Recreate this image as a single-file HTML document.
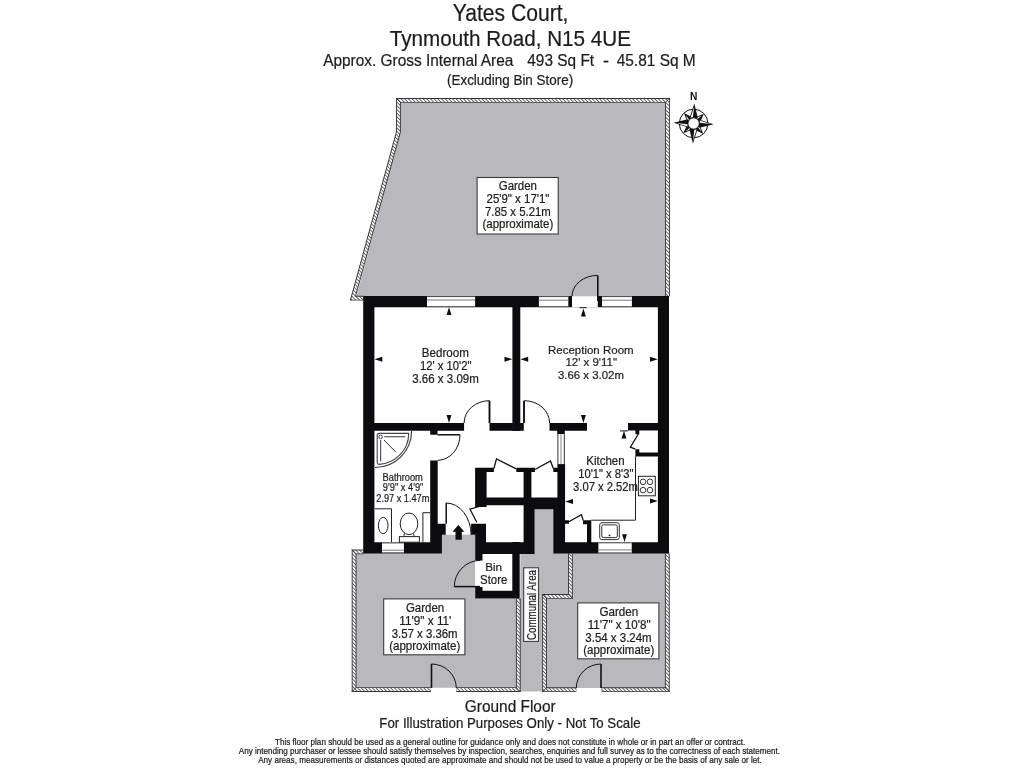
<!DOCTYPE html>
<html><head><meta charset="utf-8"><title>Yates Court Floor Plan</title>
<style>
html,body{margin:0;padding:0;background:#fff;width:1024px;height:768px;overflow:hidden}
svg{display:block;will-change:transform}
text{font-family:"Liberation Sans",sans-serif;stroke:#1c1c1c;stroke-width:0.22px;paint-order:stroke}
</style></head><body>
<svg width="1024" height="768" viewBox="0 0 1024 768">
<defs>
<pattern id="hatch" width="2.6" height="2.6" patternUnits="userSpaceOnUse" patternTransform="rotate(-45)">
<rect width="2.6" height="2.6" fill="#fff"/><rect width="0.9" height="2.6" fill="#555"/>
</pattern>
</defs>
<rect width="1024" height="768" fill="#fff"/>
<polygon points="400.50,102.60 665.20,102.60 665.20,296.60 356.40,296.60 400.50,133.00" fill="#b9b8bd" />
<polygon points="355.30,553.00 441.90,553.00 441.90,534.80 475.30,534.80 475.30,598.40 516.20,598.40 516.20,687.70 355.30,687.70" fill="#b9b8bd" />
<polygon points="534.60,509.30 553.30,509.30 553.30,553.00 568.30,553.00 568.30,594.60 542.20,594.60 542.20,691.50 520.30,691.50 520.30,553.00 534.60,553.00" fill="#b9b8bd" />
<polygon points="572.50,553.00 665.20,553.00 665.20,688.00 546.90,688.00 546.90,598.30 572.50,598.30" fill="#b9b8bd" />
<path d="M 363.5 298.2 L 353.0 298.2 L 398.45 131.9 L 398.45 100.45 L 667.45 100.45 L 667.45 296.3" stroke="#333336" stroke-width="4.8" fill="none" stroke-linejoin="miter" stroke-linecap="butt"/>
<path d="M 363.5 298.2 L 353.0 298.2 L 398.45 131.9 L 398.45 100.45 L 667.45 100.45 L 667.45 296.3" stroke="url(#hatch)" stroke-width="3.0" fill="none" stroke-linejoin="miter" stroke-linecap="butt"/>
<path d="M 363.5 551.9 L 354.1 551.9 L 354.1 689.6 L 430.8 689.6" stroke="#333336" stroke-width="4.8" fill="none" stroke-linejoin="miter" stroke-linecap="butt"/>
<path d="M 363.5 551.9 L 354.1 551.9 L 354.1 689.6 L 430.8 689.6" stroke="url(#hatch)" stroke-width="3.0" fill="none" stroke-linejoin="miter" stroke-linecap="butt"/>
<path d="M 456.3 689.6 L 518.3 689.6 L 518.3 598.3" stroke="#333336" stroke-width="4.8" fill="none" stroke-linejoin="miter" stroke-linecap="butt"/>
<path d="M 456.3 689.6 L 518.3 689.6 L 518.3 598.3" stroke="url(#hatch)" stroke-width="3.0" fill="none" stroke-linejoin="miter" stroke-linecap="butt"/>
<path d="M 570.4 553.4 L 570.4 596.45 L 544.55 596.45 L 544.55 689.7 L 576.3 689.7" stroke="#333336" stroke-width="4.8" fill="none" stroke-linejoin="miter" stroke-linecap="butt"/>
<path d="M 570.4 553.4 L 570.4 596.45 L 544.55 596.45 L 544.55 689.7 L 576.3 689.7" stroke="url(#hatch)" stroke-width="3.0" fill="none" stroke-linejoin="miter" stroke-linecap="butt"/>
<path d="M 601.6 689.7 L 667.3 689.7 L 667.3 553.4" stroke="#333336" stroke-width="4.8" fill="none" stroke-linejoin="miter" stroke-linecap="butt"/>
<path d="M 601.6 689.7 L 667.3 689.7 L 667.3 553.4" stroke="url(#hatch)" stroke-width="3.0" fill="none" stroke-linejoin="miter" stroke-linecap="butt"/>
<line x1="396.05" y1="98.05" x2="400.85" y2="102.85" stroke="#333" stroke-width="0.9"/>
<line x1="669.85" y1="98.05" x2="665.05" y2="102.85" stroke="#333" stroke-width="0.9"/>
<line x1="351.7" y1="549.5" x2="356.5" y2="554.3" stroke="#333" stroke-width="0.9"/>
<line x1="351.7" y1="692.0" x2="356.5" y2="687.2" stroke="#333" stroke-width="0.9"/>
<line x1="520.7" y1="692.0" x2="515.9" y2="687.2" stroke="#333" stroke-width="0.9"/>
<line x1="572.8" y1="598.85" x2="568.0" y2="594.05" stroke="#333" stroke-width="0.9"/>
<line x1="546.95" y1="598.85" x2="542.15" y2="594.05" stroke="#333" stroke-width="0.9"/>
<line x1="546.95" y1="687.3" x2="542.15" y2="692.1" stroke="#333" stroke-width="0.9"/>
<line x1="664.9" y1="687.3" x2="669.7" y2="692.1" stroke="#333" stroke-width="0.9"/>
<path d="M363.20 296.10H669.00V307.20H363.20Z M363.20 296.10H374.40V553.50H363.20Z M657.90 296.10H669.00V553.50H657.90Z M512.40 307.00H520.30V431.00H512.40Z M374.00 423.00H464.10V430.80H374.00Z M489.50 423.00H523.80V430.80H489.50Z M549.50 423.00H587.00V430.70H549.50Z M628.00 423.00H657.90V430.60H628.00Z M430.20 430.80H437.50V434.70H430.20Z M430.20 460.50H437.70V553.50H430.20Z M363.20 542.20H441.90V553.50H363.20Z M437.70 523.80H445.70V534.80H437.70Z M437.70 534.00H441.90V553.50H437.70Z M471.10 523.80H486.00V534.80H471.10Z M475.20 534.80H486.00V554.00H475.20Z M475.20 534.80H482.50V560.70H475.20Z M475.20 586.80H482.50V598.40H475.20Z M475.20 590.80H519.70V598.40H475.20Z M512.30 542.00H519.70V598.40H512.30Z M475.20 542.20H534.60V554.00H475.20Z M523.60 497.40H534.60V554.00H523.60Z M475.10 467.70H486.60V506.90H475.10Z M475.10 467.70H493.90V471.90H475.10Z M516.30 467.70H535.00V471.90H516.30Z M523.60 467.70H531.40V497.40H523.60Z M475.10 497.40H565.10V505.20H475.10Z M534.60 497.40H553.30V509.30H534.60Z M553.30 467.80H557.40V471.90H553.30Z M557.40 464.10H565.10V553.50H557.40Z M553.30 497.40H565.10V553.50H553.30Z M557.20 430.70H564.80V434.20H557.20Z M553.30 542.30H669.00V553.50H553.30Z M587.00 520.30H591.30V542.50H587.00Z M564.50 520.30H569.00V523.80H564.50Z M583.00 520.30H591.30V524.30H583.00Z M635.40 452.60H657.90V456.50H635.40Z M635.40 430.40H639.30V434.30H635.40Z M635.40 449.20H639.30V456.50H635.40Z" fill="#0c0b10" fill-rule="nonzero"/>
<rect x="427.00" y="296.10" width="48.10" height="11.10" fill="#fff" />
<line x1="427.0" y1="296.6" x2="475.1" y2="296.6" stroke="#444" stroke-width="1"/>
<line x1="427.0" y1="306.7" x2="475.1" y2="306.7" stroke="#444" stroke-width="1"/>
<line x1="427.0" y1="300.0" x2="475.1" y2="300.0" stroke="#777" stroke-width="1"/>
<rect x="538.90" y="296.10" width="29.40" height="11.10" fill="#fff" />
<line x1="538.9" y1="296.6" x2="568.3" y2="296.6" stroke="#444" stroke-width="1"/>
<line x1="538.9" y1="306.7" x2="568.3" y2="306.7" stroke="#444" stroke-width="1"/>
<line x1="538.9" y1="300.2" x2="568.3" y2="300.2" stroke="#777" stroke-width="1"/>
<rect x="602.00" y="296.10" width="29.90" height="11.10" fill="#fff" />
<line x1="602.0" y1="296.6" x2="631.9" y2="296.6" stroke="#444" stroke-width="1"/>
<line x1="602.0" y1="306.7" x2="631.9" y2="306.7" stroke="#444" stroke-width="1"/>
<line x1="602.0" y1="300.2" x2="631.9" y2="300.2" stroke="#777" stroke-width="1"/>
<rect x="382.00" y="542.40" width="21.90" height="10.90" fill="#fff" />
<line x1="382.0" y1="542.9" x2="403.9" y2="542.9" stroke="#444" stroke-width="1"/>
<line x1="382.0" y1="552.8" x2="403.9" y2="552.8" stroke="#444" stroke-width="1"/>
<line x1="382.0" y1="550.2" x2="403.9" y2="550.2" stroke="#777" stroke-width="1"/>
<rect x="598.40" y="542.30" width="33.30" height="11.10" fill="#fff" />
<line x1="598.4" y1="542.8" x2="631.7" y2="542.8" stroke="#444" stroke-width="1"/>
<line x1="598.4" y1="552.9" x2="631.7" y2="552.9" stroke="#444" stroke-width="1"/>
<line x1="598.4" y1="549.9" x2="631.7" y2="549.9" stroke="#777" stroke-width="1"/>
<rect x="572.00" y="296.10" width="25.80" height="11.30" fill="#fff" />
<rect x="557.40" y="434.20" width="7.40" height="29.90" fill="#fff" />
<line x1="557.9" y1="434.2" x2="557.9" y2="464.1" stroke="#333" stroke-width="1"/>
<line x1="564.3" y1="434.2" x2="564.3" y2="464.1" stroke="#333" stroke-width="1"/>
<line x1="561.0" y1="434.2" x2="561.0" y2="464.1" stroke="#888" stroke-width="1"/>
<rect x="475.20" y="560.70" width="7.40" height="26.10" fill="#fff" />
<path d="M 572 296.2 A 25.6 20.8 0 0 1 597.6 275.4" stroke="#111" stroke-width="1.0" fill="none" />
<path d="M 597.8 275.4 L 597.8 301" stroke="#111" stroke-width="1.6" fill="none" />
<path d="M 464.1 423 A 25.4 22.3 0 0 1 489.5 400.7" stroke="#111" stroke-width="1.0" fill="none" />
<path d="M 489.5 400.7 L 489.5 423" stroke="#111" stroke-width="1.9" fill="none" />
<path d="M 549.6 423 A 25.4 22.3 0 0 0 524.2 400.7" stroke="#111" stroke-width="1.0" fill="none" />
<path d="M 524.0 400.7 L 524.0 423" stroke="#111" stroke-width="1.9" fill="none" />
<path d="M 460 434.8 A 22.5 25.5 0 0 1 437.6 460.3" stroke="#111" stroke-width="1.0" fill="none" />
<path d="M 437.5 434.8 L 460 434.8" stroke="#111" stroke-width="1.5" fill="none" />
<path d="M 446 503 A 25.1 32 0 0 1 471.1 535" stroke="#111" stroke-width="1.0" fill="none" />
<path d="M 446.2 503 L 446.2 523.8" stroke="#111" stroke-width="1.5" fill="none" />
<path d="M 454.3 586.7 A 26 26.3 0 0 1 480.3 560.4" stroke="#111" stroke-width="1.0" fill="none" />
<path d="M 454.3 586.6 L 480 586.6" stroke="#111" stroke-width="1.5" fill="none" />
<path d="M 431.5 664 L 431.5 688" stroke="#111" stroke-width="1.6" fill="none" />
<path d="M 431.5 664 A 24.8 24 0 0 1 456.3 688" stroke="#111" stroke-width="1.0" fill="none" />
<path d="M 601.0 664 L 601.0 688" stroke="#111" stroke-width="1.6" fill="none" />
<path d="M 601.0 664 A 24.8 24 0 0 0 576.3 688" stroke="#111" stroke-width="1.0" fill="none" />
<path d="M 493.9 468.5 L 496.5 458.9 L 516.3 468.8" stroke="#111" stroke-width="1.3" fill="none" />
<path d="M 535 469.5 L 550.5 461 L 553.3 468.5" stroke="#111" stroke-width="1.3" fill="none" />
<path d="M 479.2 506.5 L 470 509.2 L 476.8 522.2" stroke="#111" stroke-width="1.3" fill="none" />
<path d="M 568.3 522 L 581.4 514.8 L 583.2 520.4" stroke="#111" stroke-width="1.3" fill="none" />
<path d="M 638.3 434.0 L 630.4 447.2 L 635.4 449.2" stroke="#111" stroke-width="1.3" fill="none" />
<polygon points="449.00,307.30 446.55,315.10 451.45,315.10" fill="#0c0b10" />
<polygon points="449.00,422.90 446.55,415.10 451.45,415.10" fill="#0c0b10" />
<polygon points="374.50,359.20 382.30,356.75 382.30,361.65" fill="#0c0b10" />
<polygon points="512.30,359.20 504.50,356.75 504.50,361.65" fill="#0c0b10" />
<polygon points="520.40,359.20 528.20,356.75 528.20,361.65" fill="#0c0b10" />
<polygon points="657.80,359.20 650.00,356.75 650.00,361.65" fill="#0c0b10" />
<polygon points="583.40,308.60 580.95,316.40 585.85,316.40" fill="#0c0b10" />
<path d="M 579.5 307.7 L 586.7 307.7" stroke="#111" stroke-width="1" fill="none" />
<polygon points="583.40,422.90 580.95,415.10 585.85,415.10" fill="#0c0b10" />
<polygon points="565.20,501.50 573.00,499.05 573.00,503.95" fill="#0c0b10" />
<polygon points="657.80,501.00 650.00,498.55 650.00,503.45" fill="#0c0b10" />
<polygon points="624.00,430.70 621.55,438.50 626.45,438.50" fill="#0c0b10" />
<path d="M 620 430.9 L 628 430.9" stroke="#111" stroke-width="1" fill="none" />
<polygon points="624.50,542.00 622.05,534.20 626.95,534.20" fill="#0c0b10" />
<polygon points="458.40,525.00 452.40,531.80 455.50,531.80 455.50,539.70 461.80,539.70 461.80,531.80 464.40,531.80" fill="#0c0b10" />
<path d="M 411.6 431 A 36.7 36.5 0 0 1 374.9 467.5" stroke="#333" stroke-width="1.1" fill="none" />
<path d="M 377.2 435.5 Q 377.2 433.4 379.3 433.4 L 408.7 433.4 A 31.5 31 0 0 1 379 464.4 Q 377.2 464.4 377.2 462.6 Z" stroke="#444" stroke-width="1.1" fill="none" />
<circle cx="380.6" cy="436.9" r="1.8" fill="#fff" stroke="#444" stroke-width="1"/>
<path d="M 384.3 436.7 L 405.2 436.7" stroke="#555" stroke-width="1.2" fill="none" />
<path d="M 380.6 440 L 380.6 461.2" stroke="#555" stroke-width="1.2" fill="none" />
<path d="M 384 440 L 396 452.3" stroke="#333" stroke-width="1.0" fill="none" />
<path d="M 374.6 508.8 L 391.5 508.8 L 391.5 542.2" stroke="#222" stroke-width="1.0" fill="none" />
<ellipse cx="383.2" cy="525.5" rx="4.8" ry="8.2" fill="none" stroke="#222" stroke-width="1"/>
<ellipse cx="409" cy="523.8" rx="8.8" ry="10.8" fill="#fff" stroke="#222" stroke-width="1"/>
<path d="M 404.5 533.5 L 403.8 536.6 M 413.5 533.5 L 414.2 536.6" stroke="#333" stroke-width="1" fill="none" />
<rect x="399.40" y="536.60" width="20.00" height="5.60" fill="#fff" stroke="#222" stroke-width="1"/>
<path d="M 422.9 542.2 L 422.9 512.7 L 430.2 512.7" stroke="#222" stroke-width="1.0" fill="none" />
<path d="M 635.5 456.5 L 635.5 520.2 L 591.3 520.2" stroke="#222" stroke-width="1.0" fill="none" />
<rect x="638.40" y="476.30" width="16.90" height="19.50" fill="#fff" stroke="#222" stroke-width="1"/>
<circle cx="643.0" cy="481.8" r="2.8" fill="none" stroke="#222" stroke-width="0.9"/>
<circle cx="650.0" cy="481.8" r="2.8" fill="none" stroke="#222" stroke-width="0.9"/>
<circle cx="643.0" cy="490.1" r="2.8" fill="none" stroke="#222" stroke-width="0.9"/>
<circle cx="650.0" cy="490.1" r="2.8" fill="none" stroke="#222" stroke-width="0.9"/>
<rect x="599.7" y="522.7" width="19.6" height="16.9" rx="2.2" fill="#fff" stroke="#333" stroke-width="1"/>
<rect x="601.8" y="524.9" width="15.5" height="12.7" rx="1.6" fill="none" stroke="#333" stroke-width="1"/>
<circle cx="609.5" cy="535.4" r="0.9" fill="#222"/>
<rect x="477.10" y="177.50" width="81.10" height="56.50" fill="#fff" stroke="#3c3c3c" stroke-width="1.1"/>
<rect x="383.70" y="598.90" width="81.20" height="55.90" fill="#fff" stroke="#3c3c3c" stroke-width="1.1"/>
<rect x="577.70" y="602.90" width="81.20" height="55.90" fill="#fff" stroke="#3c3c3c" stroke-width="1.1"/>
<rect x="523.70" y="567.80" width="14.80" height="73.60" fill="#fff" stroke="#3c3c3c" stroke-width="1.1"/>
<text x="452.77" y="20.50" font-size="23.77" textLength="115.70" lengthAdjust="spacingAndGlyphs" fill="#1c1c1c" >Yates Court,</text>
<text x="389.79" y="45.50" font-size="22.61" textLength="241.20" lengthAdjust="spacingAndGlyphs" fill="#1c1c1c" >Tynmouth Road, N15 4UE</text>
<text x="323.20" y="66.20" font-size="16.81" textLength="190.20" lengthAdjust="spacingAndGlyphs" fill="#1c1c1c" >Approx. Gross Internal Area</text>
<text x="527.29" y="66.20" font-size="16.81" textLength="66.80" lengthAdjust="spacingAndGlyphs" fill="#1c1c1c" >493 Sq Ft</text>
<text x="602.99" y="66.20" font-size="16.81" textLength="5.98" lengthAdjust="spacingAndGlyphs" fill="#1c1c1c" >-</text>
<text x="616.69" y="66.20" font-size="16.81" textLength="79.01" lengthAdjust="spacingAndGlyphs" fill="#1c1c1c" >45.81 Sq M</text>
<text x="446.99" y="84.60" font-size="14.93" textLength="126.16" lengthAdjust="spacingAndGlyphs" fill="#1c1c1c" >(Excluding Bin Store)</text>
<text x="498.73" y="190.40" font-size="12.03" textLength="38.22" lengthAdjust="spacingAndGlyphs" fill="#1c1c1c" >Garden</text>
<text x="486.50" y="203.10" font-size="12.03" textLength="62.92" lengthAdjust="spacingAndGlyphs" fill="#1c1c1c" >25'9&quot; x 17'1&quot;</text>
<text x="485.03" y="215.80" font-size="12.03" textLength="65.77" lengthAdjust="spacingAndGlyphs" fill="#1c1c1c" >7.85 x 5.21m</text>
<text x="482.51" y="228.00" font-size="12.03" textLength="70.72" lengthAdjust="spacingAndGlyphs" fill="#1c1c1c" >(approximate)</text>
<text x="421.77" y="357.40" font-size="12.03" textLength="47.06" lengthAdjust="spacingAndGlyphs" fill="#1c1c1c" >Bedroom</text>
<text x="419.96" y="370.10" font-size="12.03" textLength="51.49" lengthAdjust="spacingAndGlyphs" fill="#1c1c1c" >12' x 10'2&quot;</text>
<text x="412.24" y="383.10" font-size="12.03" textLength="66.57" lengthAdjust="spacingAndGlyphs" fill="#1c1c1c" >3.66 x 3.09m</text>
<text x="547.98" y="353.60" font-size="11.74" textLength="85.65" lengthAdjust="spacingAndGlyphs" fill="#1c1c1c" >Reception Room</text>
<text x="565.45" y="366.20" font-size="11.74" textLength="51.58" lengthAdjust="spacingAndGlyphs" fill="#1c1c1c" >12' x 9'11&quot;</text>
<text x="557.94" y="379.20" font-size="11.74" textLength="65.96" lengthAdjust="spacingAndGlyphs" fill="#1c1c1c" >3.66 x 3.02m</text>
<text x="586.28" y="465.20" font-size="11.88" textLength="38.37" lengthAdjust="spacingAndGlyphs" fill="#1c1c1c" >Kitchen</text>
<text x="578.19" y="478.10" font-size="11.88" textLength="55.19" lengthAdjust="spacingAndGlyphs" fill="#1c1c1c" >10'1&quot; x 8'3&quot;</text>
<text x="573.05" y="491.20" font-size="11.88" textLength="64.84" lengthAdjust="spacingAndGlyphs" fill="#1c1c1c" >3.07 x 2.52m</text>
<text x="382.56" y="480.60" font-size="10.29" textLength="40.31" lengthAdjust="spacingAndGlyphs" fill="#1c1c1c" >Bathroom</text>
<text x="382.81" y="491.20" font-size="10.29" textLength="40.58" lengthAdjust="spacingAndGlyphs" fill="#1c1c1c" >9'9&quot; x 4'9&quot;</text>
<text x="376.34" y="502.00" font-size="10.29" textLength="53.02" lengthAdjust="spacingAndGlyphs" fill="#1c1c1c" >2.97 x 1.47m</text>
<text x="485.16" y="570.50" font-size="11.45" textLength="16.90" lengthAdjust="spacingAndGlyphs" fill="#1c1c1c" >Bin</text>
<text x="480.09" y="583.60" font-size="11.88" textLength="27.23" lengthAdjust="spacingAndGlyphs" fill="#1c1c1c" >Store</text>
<text x="405.93" y="611.80" font-size="12.03" textLength="38.22" lengthAdjust="spacingAndGlyphs" fill="#1c1c1c" >Garden</text>
<text x="399.24" y="624.70" font-size="12.03" textLength="52.14" lengthAdjust="spacingAndGlyphs" fill="#1c1c1c" >11'9&quot; x 11'</text>
<text x="391.74" y="637.50" font-size="12.03" textLength="65.85" lengthAdjust="spacingAndGlyphs" fill="#1c1c1c" >3.57 x 3.36m</text>
<text x="389.21" y="650.40" font-size="12.03" textLength="71.03" lengthAdjust="spacingAndGlyphs" fill="#1c1c1c" >(approximate)</text>
<text x="599.42" y="615.70" font-size="12.03" textLength="38.74" lengthAdjust="spacingAndGlyphs" fill="#1c1c1c" >Garden</text>
<text x="587.65" y="628.50" font-size="12.03" textLength="62.88" lengthAdjust="spacingAndGlyphs" fill="#1c1c1c" >11'7&quot; x 10'8&quot;</text>
<text x="585.34" y="641.50" font-size="12.03" textLength="66.36" lengthAdjust="spacingAndGlyphs" fill="#1c1c1c" >3.54 x 3.24m</text>
<text x="583.21" y="654.40" font-size="12.03" textLength="71.03" lengthAdjust="spacingAndGlyphs" fill="#1c1c1c" >(approximate)</text>
<g transform="translate(536.1,639.6) rotate(-90)">
<text x="-0.49" y="0.00" font-size="12.03" textLength="70.09" lengthAdjust="spacingAndGlyphs" fill="#1c1c1c" >Communal Area</text>
</g>
<text x="464.83" y="712.00" font-size="16.38" textLength="90.83" lengthAdjust="spacingAndGlyphs" fill="#1c1c1c" >Ground Floor</text>
<text x="379.34" y="727.90" font-size="14.20" textLength="261.19" lengthAdjust="spacingAndGlyphs" fill="#1c1c1c" >For Illustration Purposes Only - Not To Scale</text>
<text x="274.94" y="744.80" font-size="9.13" textLength="470.32" lengthAdjust="spacingAndGlyphs" fill="#1c1c1c" >This floor plan should be used as a general outline for guidance only and does not constitute in whole or in part an offer or contract.</text>
<text x="238.80" y="753.90" font-size="9.13" textLength="541.23" lengthAdjust="spacingAndGlyphs" fill="#1c1c1c" >Any intending purchaser or lessee should satisfy themselves by inspection, searches, enquiries and full survey as to the correctness of each statement.</text>
<text x="258.20" y="763.10" font-size="9.13" textLength="503.66" lengthAdjust="spacingAndGlyphs" fill="#1c1c1c" >Any areas, measurements or distances quoted are approximate and should not be used to value a property or be the basis of any sale or let.</text>
<circle cx="693.6" cy="123.5" r="14.3" fill="#fff" stroke="#111" stroke-width="1"/>
<polygon points="693.6,123.5 695.30,117.26 703.99,113.82 699.94,122.24" fill="#111"/>
<polygon points="697.04,119.13 695.77,117.76 701.79,115.86" fill="#fff"/>
<polygon points="693.6,123.5 699.84,125.20 703.28,133.89 694.86,129.84" fill="#111"/>
<polygon points="697.97,126.94 699.34,125.67 701.24,131.69" fill="#fff"/>
<polygon points="693.6,123.5 691.90,129.74 683.21,133.18 687.26,124.76" fill="#111"/>
<polygon points="690.16,127.87 691.43,129.24 685.41,131.14" fill="#fff"/>
<polygon points="693.6,123.5 687.36,121.80 683.92,113.11 692.34,117.16" fill="#111"/>
<polygon points="689.23,120.06 687.86,121.33 685.96,115.31" fill="#fff"/>
<polygon points="693.6,123.5 689.81,117.36 694.30,103.51 697.81,117.64" fill="#111"/>
<polygon points="692.81,117.47 690.61,117.39 694.19,106.51" fill="#fff"/>
<polygon points="693.6,123.5 699.74,119.71 713.59,124.20 699.46,127.71" fill="#111"/>
<polygon points="699.63,122.71 699.71,120.51 710.59,124.09" fill="#fff"/>
<polygon points="693.6,123.5 697.39,129.64 692.90,143.49 689.39,129.36" fill="#111"/>
<polygon points="694.39,129.53 696.59,129.61 693.01,140.49" fill="#fff"/>
<polygon points="693.6,123.5 687.46,127.29 673.61,122.80 687.74,119.29" fill="#111"/>
<polygon points="687.57,124.29 687.49,126.49 676.61,122.91" fill="#fff"/>
<circle cx="693.6" cy="123.5" r="5.7" fill="#fff" stroke="#111" stroke-width="1"/>
<text x="690.0" y="100.0" font-size="10.8" font-weight="bold" fill="#111" textLength="7.4" lengthAdjust="spacingAndGlyphs" style="stroke-width:0">N</text>
</svg>
</body></html>
